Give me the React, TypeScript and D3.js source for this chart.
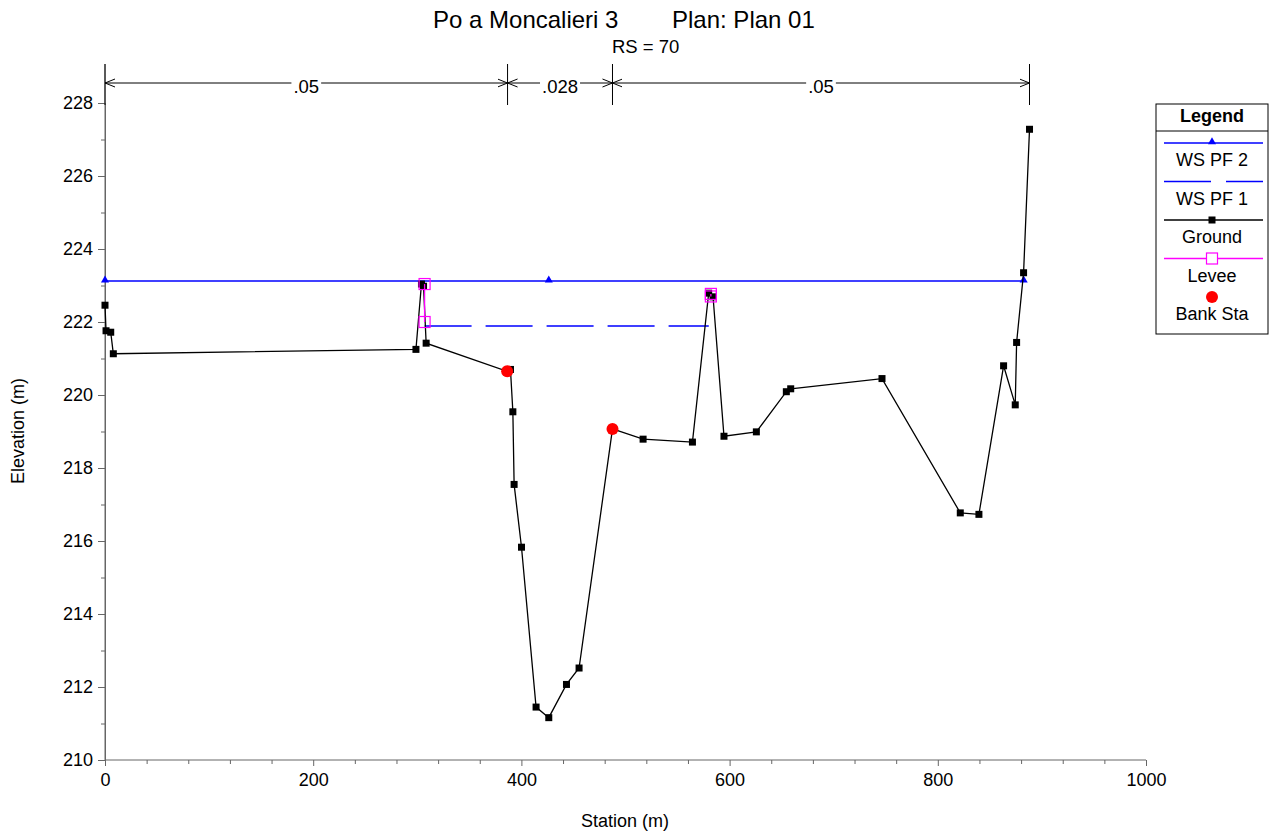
import { useRef, useEffect } from "react";
import * as d3 from "d3";

// Cross-section data (station m, elevation m)
const groundStation = [0, 1, 5.5, 8, 298.7, 304, 306, 308.5, 386.3, 389.5, 391.8, 393, 400.1, 414.1, 426.3, 443.3, 455.4, 487.5, 516.9, 564.3, 579.9, 584.1, 594.6, 625.7, 654.5, 658.7, 746.4, 821.6, 839.5, 863.2, 874.4, 875.7, 882.4, 888.1];
const groundElev = [222.46, 221.76, 221.72, 221.13, 221.25, 223.04, 222.98, 221.42, 220.65, 220.7, 219.54, 217.55, 215.83, 211.45, 211.16, 212.07, 212.52, 219.07, 218.79, 218.71, 222.79, 222.69, 218.87, 218.99, 220.09, 220.17, 220.45, 216.77, 216.73, 220.8, 219.73, 221.44, 223.35, 227.28];

const wsPf2Station = [0, 426.3, 882.5];
const wsPf2Elev = [223.12, 223.12, 223.12];

const wsPf1Station = [307, 580];
const wsPf1Elev = [221.89, 221.89];

const leftLeveeStation = [307, 307];
const leftLeveeElev = [223.04, 222.0];
const rightLeveeStation = [582, 582];
const rightLeveeElev = [222.77, 222.7];

const bankStation = [386.3, 487.5];
const bankElev = [220.65, 219.07];

const nBreaks = [0, 386.7, 487.5, 888.1];
const nValues = [".05", ".028", ".05"];

const xTicks = [0, 200, 400, 600, 800, 1000];
const yTicks = [210, 212, 214, 216, 218, 220, 222, 224, 226, 228];

const legendItems = ["WS PF 2", "WS PF 1", "Ground", "Levee", "Bank Sta"];

const FONT = "'Liberation Sans', Arial, sans-serif";

const App = () => {
  const svgRef = useRef<SVGSVGElement>(null);

  useEffect(() => {
    const svg = d3.select(svgRef.current);
    svg.selectAll("*").remove();
    svg.style("font-family", FONT);

    const x = d3.scaleLinear().domain([0, 1000]).range([105, 1146]);
    const y = d3.scaleLinear().domain([210, 228]).range([760, 103]);
    const axisColor = "#666";

    // title
    svg.append("text").attr("x", 433).attr("y", 28).style("font-size", "24px").text("Po a Moncalieri 3");
    svg.append("text").attr("x", 672).attr("y", 28).style("font-size", "24px").text("Plan: Plan 01");
    svg.append("text").attr("x", 612).attr("y", 53).style("font-size", "18.5px").text("RS = 70");

    // axes
    const xAxis = svg.append("g").attr("transform", `translate(0,${y(210)})`)
      .call(d3.axisBottom(x).tickValues(xTicks).tickSize(6).tickPadding(7).tickFormat(d3.format("d")));
    const xMinor = svg.append("g").attr("transform", `translate(0,${y(210)})`)
      .call(d3.axisBottom(x).tickValues(d3.range(0, 1001, 40).filter((v) => v % 200 !== 0)).tickSize(4).tickFormat(() => ""));
    xMinor.select(".domain").remove();

    const yAxis = svg.append("g").attr("transform", `translate(${x(0)},0)`)
      .call(d3.axisLeft(y).tickValues(yTicks).tickSize(7).tickPadding(5).tickFormat(d3.format("d")));
    const yMinor = svg.append("g").attr("transform", `translate(${x(0)},0)`)
      .call(d3.axisLeft(y).tickValues(d3.range(211, 228, 2)).tickSize(4).tickFormat(() => ""));
    yMinor.select(".domain").remove();
    // extend y axis line up to the n-value bar
    svg.append("line").attr("x1", x(0)).attr("x2", x(0)).attr("y1", 64).attr("y2", y(210))
      .style("stroke", axisColor);

    [xAxis, yAxis, xMinor, yMinor].forEach((a) => {
      a.selectAll("line, path").style("stroke", axisColor);
      a.selectAll("text").style("font-size", "18px").style("fill", "#000").style("font-family", FONT);
    });
    xAxis.select(".domain").attr("d", `M${x(0)},0H${x(1000)}`);

    svg.append("text").attr("transform", `translate(24,${431}) rotate(-90)`).attr("text-anchor", "middle")
      .style("font-size", "18px").text("Elevation (m)");
    svg.append("text").attr("x", 625).attr("y", 827).attr("text-anchor", "middle")
      .style("font-size", "18px").text("Station (m)");

    // manning's n bar
    const nY = 83;
    const defs = svg.append("defs");
    defs.append("marker").attr("id", "arr").attr("viewBox", "0 0 10 10").attr("refX", 10).attr("refY", 5)
      .attr("markerWidth", 10).attr("markerHeight", 10).attr("orient", "auto-start-reverse")
      .attr("markerUnits", "userSpaceOnUse")
      .append("path").attr("d", "M0,1L10,5L0,9").attr("fill", "none").attr("stroke", "#000");
    nBreaks.forEach((b) => {
      svg.append("line").attr("x1", x(b)).attr("x2", x(b)).attr("y1", 64).attr("y2", 105)
        .style("stroke", "#000");
    });
    nValues.forEach((v, i) => {
      const a = x(nBreaks[i]);
      const b = x(nBreaks[i + 1]);
      svg.append("line").attr("x1", a).attr("x2", b).attr("y1", nY).attr("y2", nY)
        .style("stroke", "#000").attr("marker-start", "url(#arr)").attr("marker-end", "url(#arr)");
      const t = svg.append("text").attr("x", (a + b) / 2).attr("y", nY + 10).attr("text-anchor", "middle")
        .style("font-size", "18.5px").text(v);
      const bb = (t.node() as SVGTextElement).getBBox();
      svg.insert("rect", () => t.node()).attr("x", bb.x - 2).attr("y", nY - 2).attr("width", bb.width + 4)
        .attr("height", 4).attr("fill", "#fff");
    });

    const line = d3.line<[number, number]>().x((d) => x(d[0])).y((d) => y(d[1]));
    const zip = (a: number[], b: number[]) => a.map((v, i) => [v, b[i]] as [number, number]);

    // WS PF 1 (dashed)
    svg.append("path").datum(zip(wsPf1Station, wsPf1Elev)).attr("d", line)
      .attr("fill", "none").style("stroke", "#0000ff").attr("stroke-width", 1.3).attr("stroke-dasharray", "47,14");

    // WS PF 2
    const ws2 = zip(wsPf2Station, wsPf2Elev);
    svg.append("path").datum(ws2).attr("d", line)
      .attr("fill", "none").style("stroke", "#0000ff").attr("stroke-width", 1.5);
    const tri = d3.symbol().type(d3.symbolTriangle).size(28);
    svg.selectAll(".ws2m").data(ws2).enter().append("path").attr("class", "ws2m")
      .attr("transform", (d) => `translate(${x(d[0])},${y(d[1]) - 1})`).attr("d", tri()).attr("fill", "#0000ff");

    // Ground
    const ground = zip(groundStation, groundElev);
    svg.append("path").datum(ground).attr("d", line)
      .attr("fill", "none").attr("stroke", "#000").attr("stroke-width", 1.3);
    svg.selectAll(".gm").data(ground).enter().append("rect").attr("class", "gm")
      .attr("x", (d) => x(d[0]) - 3.5).attr("y", (d) => y(d[1]) - 3.5)
      .attr("width", 7).attr("height", 7).attr("fill", "#000");

    // Levees
    [zip(leftLeveeStation, leftLeveeElev), zip(rightLeveeStation, rightLeveeElev)].forEach((lv) => {
      svg.append("path").datum(lv).attr("d", line).attr("fill", "none").attr("stroke", "#ff00ff").attr("stroke-width", 1.3);
      lv.forEach((d) => {
        svg.append("rect").attr("x", x(d[0]) - 5.5).attr("y", y(d[1]) - 5.5).attr("width", 11).attr("height", 11)
          .attr("fill", "none").attr("stroke", "#ff00ff").attr("stroke-width", 1.2);
      });
    });

    // Bank stations
    svg.selectAll(".bank").data(zip(bankStation, bankElev)).enter().append("circle").attr("class", "bank")
      .attr("cx", (d) => x(d[0])).attr("cy", (d) => y(d[1])).attr("r", 6).attr("fill", "#ff0000");

    // Legend
    const lg = svg.append("g");
    lg.append("rect").attr("x", 1156).attr("y", 104).attr("width", 112).attr("height", 230)
      .attr("fill", "#fff").attr("stroke", "#000");
    lg.append("line").attr("x1", 1156).attr("x2", 1268).attr("y1", 131).attr("y2", 131).attr("stroke", "#000");
    lg.append("text").attr("x", 1212).attr("y", 122).attr("text-anchor", "middle")
      .style("font-size", "18px").style("font-weight", "bold").text("Legend");
    legendItems.forEach((name, i) => {
      const ly = 143 + i * 38.5;
      const lx1 = 1164;
      const lx2 = 1263;
      const cx = 1212;
      if (name === "WS PF 2") {
        lg.append("line").attr("x1", lx1).attr("x2", lx2).attr("y1", ly).attr("y2", ly).style("stroke", "#0000ff").attr("stroke-width", 1.3);
        lg.append("path").attr("transform", `translate(${cx},${ly - 1})`).attr("d", tri()).attr("fill", "#0000ff");
      } else if (name === "WS PF 1") {
        lg.append("path").attr("d", `M${lx1},${ly}H${lx1 + 47}M${lx1 + 62},${ly}H${lx2}`)
          .attr("fill", "none").style("stroke", "#0000ff").style("stroke-width", "1.3px");
      } else if (name === "Ground") {
        lg.append("line").attr("x1", lx1).attr("x2", lx2).attr("y1", ly).attr("y2", ly).attr("stroke", "#000").attr("stroke-width", 1.3);
        lg.append("rect").attr("x", cx - 3.5).attr("y", ly - 3.5).attr("width", 7).attr("height", 7).attr("fill", "#000");
      } else if (name === "Levee") {
        lg.append("line").attr("x1", lx1).attr("x2", lx2).attr("y1", ly).attr("y2", ly).attr("stroke", "#ff00ff").attr("stroke-width", 1.3);
        lg.append("rect").attr("x", cx - 5.5).attr("y", ly - 5.5).attr("width", 11).attr("height", 11)
          .attr("fill", "#fff").attr("stroke", "#ff00ff").attr("stroke-width", 1.2);
      } else {
        lg.append("circle").attr("cx", cx).attr("cy", ly).attr("r", 6).attr("fill", "#ff0000");
      }
      lg.append("text").attr("x", cx).attr("y", ly + 23).attr("text-anchor", "middle")
        .style("font-size", "18px").text(name);
    });
  }, []);

  return (
    <div style={{ position: "absolute", left: 0, top: 0 }}>
      <svg ref={svgRef} width={1271} height={832} style={{ display: "block", background: "#fff" }}></svg>
    </div>
  );
};

export default App;
